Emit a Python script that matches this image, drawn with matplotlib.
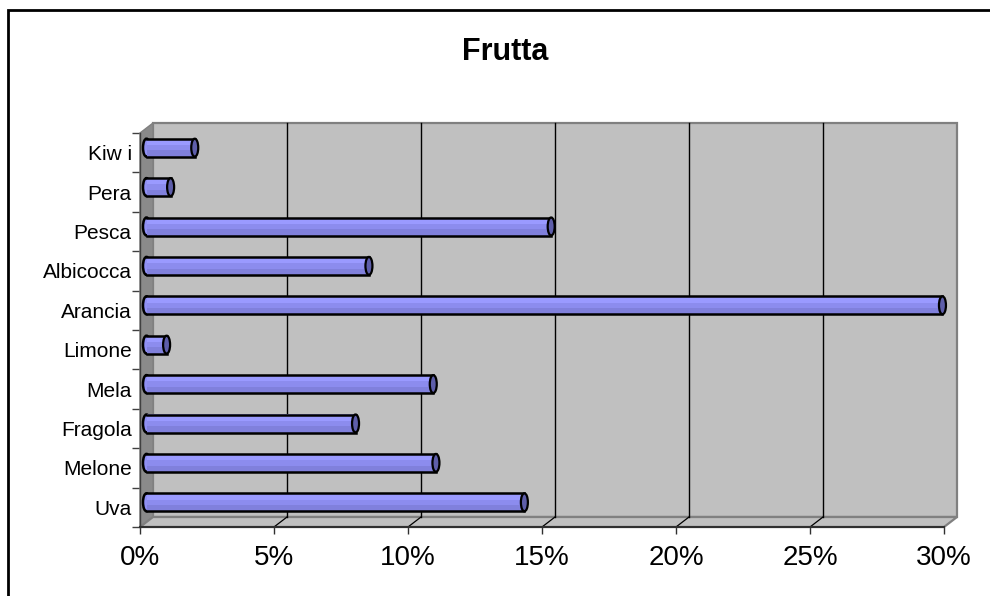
import matplotlib

matplotlib.use("Agg")

import matplotlib.pyplot as plt
from matplotlib.patches import Ellipse, Polygon, Rectangle

plt.rcParams["font.family"] = ["Liberation Sans", "DejaVu Sans"]

# share of each fruit, bottom row first
categories = ["Uva", "Melone", "Fragola", "Mela", "Limone",
              "Arancia", "Albicocca", "Pesca", "Pera", "Kiw i"]
shares = [14.1, 10.8, 7.8, 10.7, 0.75, 29.7, 8.3, 15.1, 0.9, 1.8]
x_ticks = [0, 5, 10, 15, 20, 25, 30]
x_labels = [f"{t}%" for t in x_ticks]
title = "Frutta"

W, H = 990, 596
X_MAX = 30
n = len(categories)

fig = plt.figure(figsize=(W / 100, H / 100), dpi=100)
fig.patch.set_facecolor("white")

# front plane of the 3d box, in pixels
left_px, right_px, top_px, bottom_px = 140, 944, 133, 527
ax = fig.add_axes([left_px / W, (H - bottom_px) / H,
                   (right_px - left_px) / W, (bottom_px - top_px) / H])
ax.set_xlim(0, X_MAX)
ax.set_ylim(-0.5, n - 0.5)
ax.patch.set_visible(False)

# depth of the box, converted from pixels to data units
px_x = X_MAX / (right_px - left_px)
px_y = n / (bottom_px - top_px)
DX = 13 * px_x
DY = 10 * px_y
y0, y1 = -0.5, n - 0.5

WALL = "#c0c0c0"
EDGE = "#808080"

# back wall
ax.add_patch(Rectangle((DX, y0 + DY), X_MAX, n, fc=WALL, ec=EDGE,
                       lw=1.6, clip_on=False, zorder=1))
# side wall
ax.add_patch(Polygon([(0, y0), (0, y1), (DX, y1 + DY), (DX, y0 + DY)],
                     closed=True, fc="#8a8a8a", ec=EDGE, lw=1,
                     clip_on=False, zorder=2))
# floor
ax.add_patch(Polygon([(0, y0), (X_MAX, y0), (X_MAX + DX, y0 + DY), (DX, y0 + DY)],
                     closed=True, fc=WALL, ec=EDGE, lw=1.6,
                     clip_on=False, zorder=2))

# gridlines on the wall and the floor
for t in x_ticks[1:-1]:
    ax.plot([t + DX, t + DX], [y0 + DY, y1 + DY], color="black", lw=1,
            clip_on=False, zorder=3)
    ax.plot([t, t + DX], [y0, y0 + DY], color="black", lw=0.9,
            clip_on=False, zorder=3)

# cylinders, sitting half way into the box
bar_h = 18 * px_y
cap_w = 7 * px_x
bands = [("#8080dc", 0.0, 0.35), ("#8c8cee", 0.35, 0.65), ("#9a9aff", 0.65, 1.0)]
for i, v in enumerate(shares):
    yc = i + DY / 2
    xs = DX / 2
    xe = v + DX / 2
    yb = yc - bar_h / 2
    ax.add_patch(Ellipse((xs, yc), cap_w, bar_h, fc="#9090f4", ec="black",
                         lw=1.8, clip_on=False, zorder=4))
    for color, a, b in bands:
        ax.add_patch(Rectangle((xs, yb + a * bar_h), xe - xs, (b - a) * bar_h,
                               fc=color, ec="none", clip_on=False, zorder=5))
    ax.plot([xs, xe], [yb, yb], color="black", lw=1.8, clip_on=False, zorder=6)
    ax.plot([xs, xe], [yb + bar_h, yb + bar_h], color="black", lw=1.8,
            clip_on=False, zorder=6)
    ax.add_patch(Ellipse((xe, yc), cap_w, bar_h, fc="#5e5eaa", ec="black",
                         lw=1.6, clip_on=False, zorder=7))

# axes
for side in ["top", "right"]:
    ax.spines[side].set_visible(False)
ax.spines["bottom"].set_color("#303030")
ax.spines["bottom"].set_linewidth(1.5)
ax.spines["left"].set_color("#404040")
ax.spines["left"].set_linewidth(1)
ax.spines["bottom"].set_zorder(8)

ax.set_xticks(x_ticks)
ax.set_xticklabels(x_labels, fontsize=20)
ax.tick_params(axis="x", length=5, width=1, color="#303030", pad=8)

ax.set_yticks(range(n))
ax.set_yticklabels(categories, fontsize=15)
ax.set_yticks([k - 0.5 for k in range(n + 1)], minor=True)
ax.tick_params(axis="y", which="major", length=0, pad=6)
ax.tick_params(axis="y", which="minor", length=6, width=1, color="#404040")

fig.text(505 / W, 1 - 52 / H, title, fontsize=22, fontweight="bold",
         ha="center", va="center")

# outer chart border, running past the right and bottom edges
fig.patches.append(Rectangle((8 / W, -0.05), 1.1, (H - 10) / H + 0.05,
                             transform=fig.transFigure, fc="none",
                             ec="black", lw=2, zorder=10))

fig.savefig("out.png", dpi=100)
